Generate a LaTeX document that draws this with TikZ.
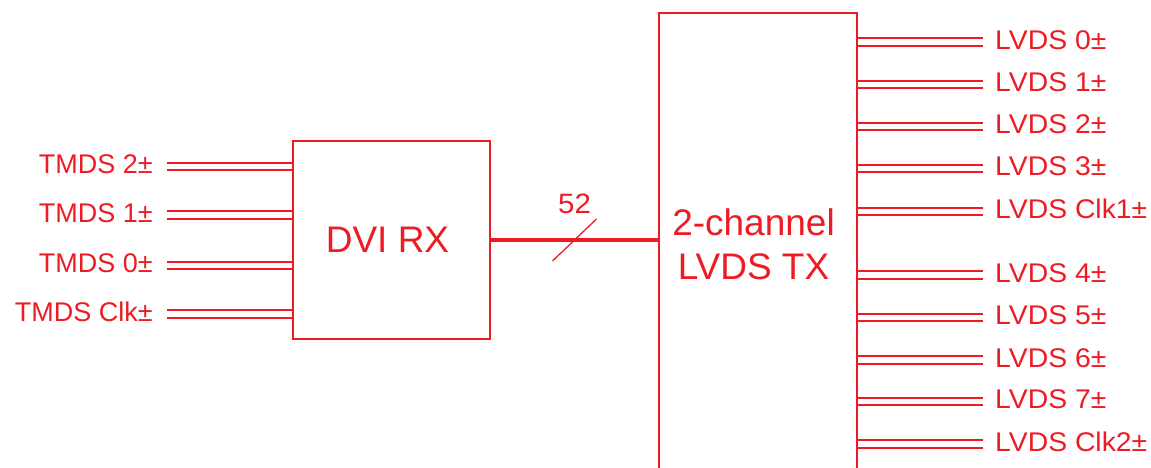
\documentclass[tikz,border=0pt]{standalone}
\usepackage{fontspec}
\setmainfont{Liberation Sans}
\newfontfamily\widesans[FakeStretch=1.05]{Liberation Sans}
\usetikzlibrary{positioning}
\definecolor{wire}{HTML}{ED1C24}

\begin{document}
\begin{tikzpicture}[x=1pt,y=-1pt,
  every node/.style={text=wire},
  blk/.style={draw=wire,line width=2pt,font=\fontsize{37}{44}\selectfont,align=center},
  lbl/.style={font=\fontsize{27}{32}\selectfont,inner sep=0pt,yshift=2pt},
  olbl/.style={lbl,font=\widesans\fontsize{27}{32}\selectfont},
  num/.style={font=\widesans\fontsize{28}{32}\selectfont,inner sep=0pt},
  pair/.style={draw=wire,line width=1.9pt,double=white,double distance=5.4pt},
  bus/.style={draw=wire,line width=3.5pt},
  tick/.style={draw=wire,line width=1.3pt}]
  \useasboundingbox (0,0) rectangle (1151,468);
  \node[blk,minimum width=197pt,minimum height=198pt] (rx) at (391.5,240) {DVI RX\hspace*{8pt}};
  \node[blk,minimum width=198pt,minimum height=462pt] (tx) at (758,244) {2-channel\hspace*{9pt}\\LVDS TX\hspace*{9pt}};
  % TMDS inputs
  \coordinate (in2) at (167,166.5);
  \coordinate (in1) at (167,215);
  \coordinate (in0) at (167,265.5);
  \coordinate (inc) at (167,314);
  \node[lbl,left=14pt of in2] (t2) {TMDS 2±};
  \node[lbl,left=14pt of in1] (t1) {TMDS 1±};
  \node[lbl,left=14pt of in0] (t0) {TMDS 0±};
  \node[lbl,left=14pt of inc] (tc) {TMDS Clk±};
  \draw[pair] (in2) -- (in2 -| rx.west);
  \draw[pair] (in1) -- (in1 -| rx.west);
  \draw[pair] (in0) -- (in0 -| rx.west);
  \draw[pair] (inc) -- (inc -| rx.west);
  % 52-bit bus
  \draw[bus] (rx.east) -- coordinate[pos=.5] (bm) (tx.west |- rx.east);
  \draw[tick] ([shift={(-22,21)}]bm) -- ([shift={(22,-21)}]bm);
  \node[num,above=26pt of bm] (bw) {52};
  % LVDS outputs
  \coordinate (o0) at (983,42);
  \coordinate (o1) at (983,84.3);
  \coordinate (o2) at (983,126.7);
  \coordinate (o3) at (983,168.7);
  \coordinate (oc1) at (983,211.3);
  \coordinate (o4) at (983,275);
  \coordinate (o5) at (983,317.3);
  \coordinate (o6) at (983,360);
  \coordinate (o7) at (983,401.7);
  \coordinate (oc2) at (983,444);
  \draw[pair] (o0 -| tx.east) -- (o0);
  \draw[pair] (o1 -| tx.east) -- (o1);
  \draw[pair] (o2 -| tx.east) -- (o2);
  \draw[pair] (o3 -| tx.east) -- (o3);
  \draw[pair] (oc1 -| tx.east) -- (oc1);
  \draw[pair] (o4 -| tx.east) -- (o4);
  \draw[pair] (o5 -| tx.east) -- (o5);
  \draw[pair] (o6 -| tx.east) -- (o6);
  \draw[pair] (o7 -| tx.east) -- (o7);
  \draw[pair] (oc2 -| tx.east) -- (oc2);
  \node[olbl,right=12pt of o0] (l0) {LVDS 0±};
  \node[olbl,right=12pt of o1] (l1) {LVDS 1±};
  \node[olbl,right=12pt of o2] (l2) {LVDS 2±};
  \node[olbl,right=12pt of o3] (l3) {LVDS 3±};
  \node[olbl,right=12pt of oc1] (lc1) {LVDS Clk1±};
  \node[olbl,right=12pt of o4] (l4) {LVDS 4±};
  \node[olbl,right=12pt of o5] (l5) {LVDS 5±};
  \node[olbl,right=12pt of o6] (l6) {LVDS 6±};
  \node[olbl,right=12pt of o7] (l7) {LVDS 7±};
  \node[olbl,right=12pt of oc2] (lc2) {LVDS Clk2±};
\end{tikzpicture}
\end{document}
